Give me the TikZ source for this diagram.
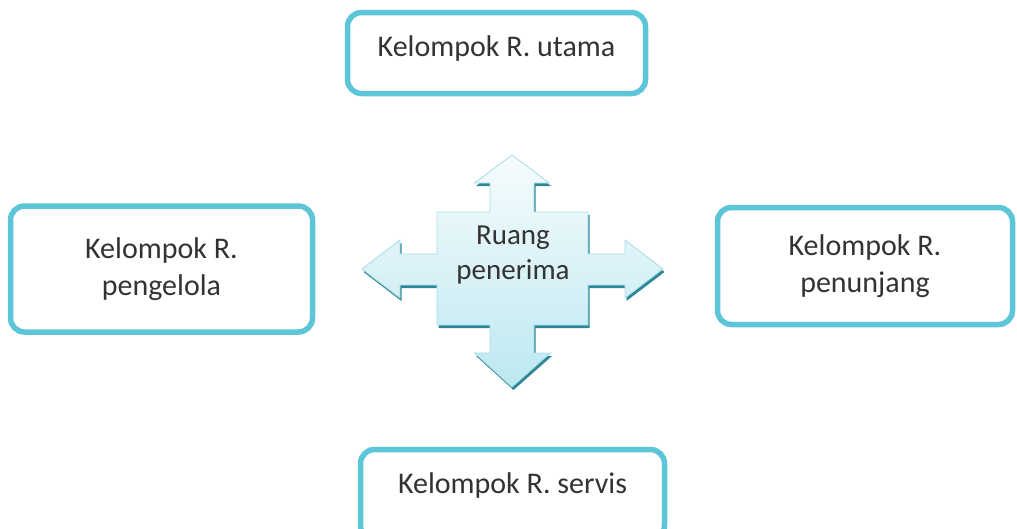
\documentclass[tikz,border=0pt]{standalone}
\usepackage{fontspec}
\setmainfont{Carlito}
\definecolor{boxcyan}{HTML}{5CC6D8}
\definecolor{textgray}{HTML}{333333}
\definecolor{crossedge}{HTML}{A6DCE7}
\definecolor{crosstop}{HTML}{F6FCFD}
\definecolor{crossbottom}{HTML}{BDE8F1}
\definecolor{crossbevel}{HTML}{2F8696}
\begin{document}
\begin{tikzpicture}[x=1pt,y=-1pt,
  roombox/.style={draw=boxcyan, line width=5.5pt, rounded corners=14pt, fill=white,
    align=center, text=textgray, font=\fontsize{30}{37}\selectfont, inner sep=0pt},
  crosstext/.style={align=center, text=textgray, font=\fontsize{29}{35}\selectfont, inner sep=0pt},
]
\useasboundingbox (0,0) rectangle (1017,528);

% four-way arrow outline
\def\crosspath{(512,155) -- (549.5,183) -- (534,183) -- (534,212) -- (588,212) -- (588,254)
  -- (625,254) -- (625,240) -- (663,269) -- (625,298) -- (625,285) -- (588,285)
  -- (588,325) -- (534,325) -- (534,353) -- (550.5,353) -- (512,387) -- (474.5,353)
  -- (490,353) -- (490,325) -- (437,325) -- (437,285) -- (400,285) -- (400,298)
  -- (362,269) -- (400,240) -- (400,254) -- (437,254) -- (437,212) -- (490,212)
  -- (490,183) -- (474.5,183) -- cycle}

% bevel underneath, then the shaded face
\fill[crossbevel, xshift=1.5pt, yshift=-3pt] \crosspath;
\shade[top color=crosstop, bottom color=crossbottom, draw=crossedge, line width=0.8pt] \crosspath;

\node[crosstext] (hub) at (513,255) {Ruang\\penerima};

% surrounding room groups
\node[roombox, minimum width=298pt, minimum height=81pt, text height=22pt, text depth=16pt] (utama) at (496.5,53) {Kelompok R. utama};
\node[roombox, minimum width=302pt, minimum height=126pt] (pengelola) at (161.5,269) {Kelompok R.\\pengelola};
\node[roombox, minimum width=295pt, minimum height=117pt] (penunjang) at (865,266) {Kelompok R.\\penunjang};
\node[roombox, minimum width=304pt, minimum height=90pt, text depth=22pt] (servis) at (512.5,494.5) {Kelompok R. servis};
\end{tikzpicture}
\end{document}
